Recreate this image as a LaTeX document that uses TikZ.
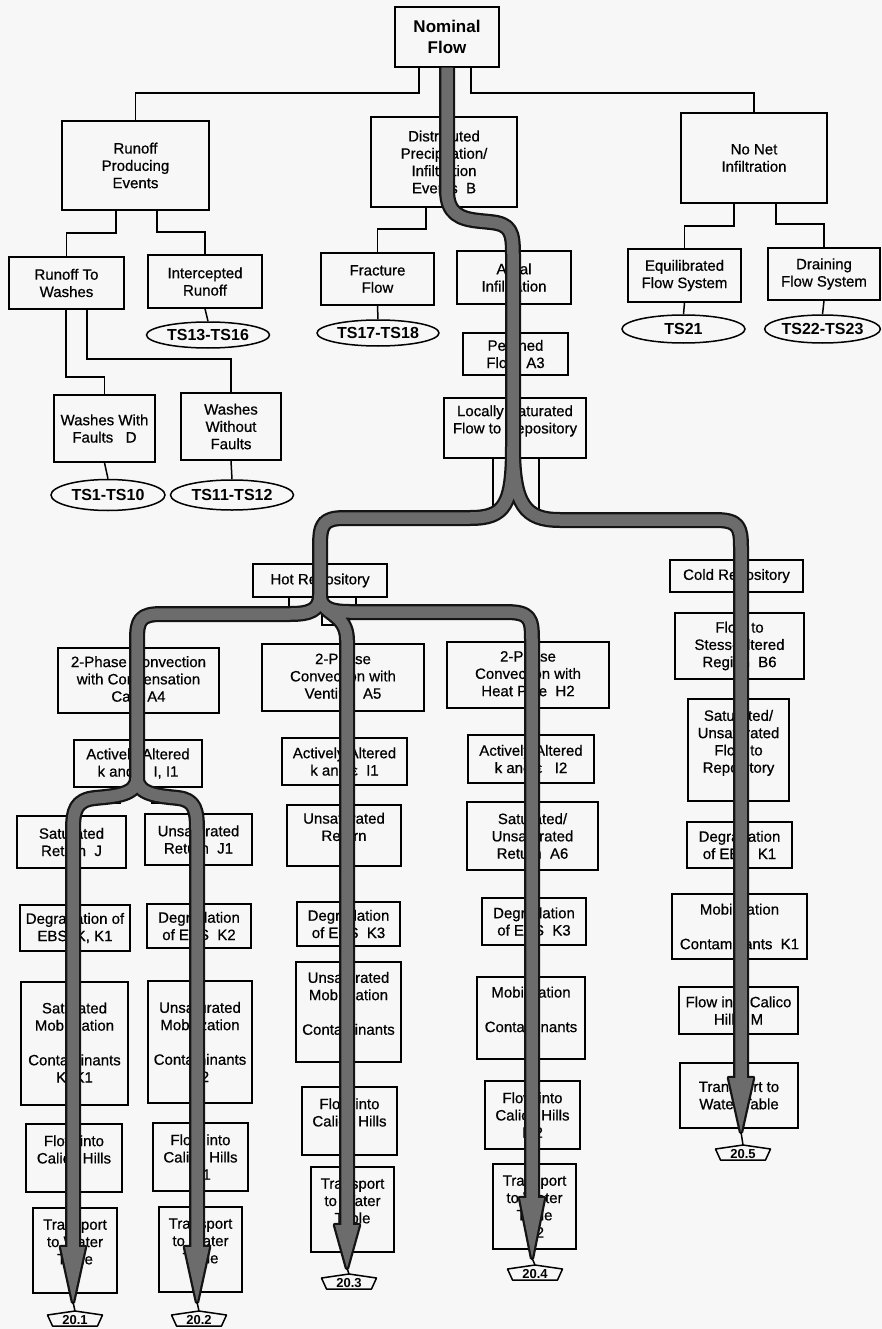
\documentclass[tikz,border=0pt]{standalone}
\usepackage{fontspec}
\setmainfont{Liberation Sans}
\newfontfamily\heavyfont{Liberation Sans}[FakeBold=0.6]
\usetikzlibrary{shapes.geometric,calc}
\definecolor{bg}{RGB}{247,247,247}
\definecolor{bandgray}{RGB}{108,108,108}
\newcommand\boxfont{\heavyfont\fontsize{15}{17.3}\selectfont}
\newcommand\topfont{\fontsize{17}{21}\selectfont\bfseries}
\newcommand\tsfont{\fontsize{16}{18}\selectfont\bfseries}
\newcommand\pentfont{\fontsize{13}{15}\selectfont\bfseries}
\newcommand\pentnode[4]{%
  \node[pentlabel] (#1) at (#2,#3) {#4};
  \draw[pentline] (#1.center) ++(-27.5,-5) -- ++(27.5,-4) -- ++(27.5,4) -- ++(-5,11) -- ++(-45,0) -- cycle;
  \coordinate (#1peak) at ($(#1.center)+(0,-9)$);}
\newcommand\flowroutes{%
  (nom.south) -- (447,190) .. controls (447,214) and (460,219) .. (480,221) -- (490,222) .. controls (511,224) and (513,232) .. (513,255) -- (513,445)
  (513,445) .. controls (513,505) and (505,518) .. (470,518) -- (345,518) .. controls (322,518) and (320,525) .. (320,548) -- (320,595)
  (513,445) .. controls (513,505) and (525,520) .. (560,520) -- (715,520) .. controls (739,520) and (741,527) .. (741,548) -- (741,1078)
  (320,595) .. controls (320,610) and (310,614) .. (290,614) -- (162,614) .. controls (140,614) and (137,620) .. (137,640) -- (137,778)
  (320,595) .. controls (320,608) and (330,612) .. (350,612) -- (505,612) .. controls (530,612) and (532,618) .. (532,640) -- (532,1198)
  (320,595) .. controls (320,615) and (347,612) .. (347,640) -- (347,1225)
  (137,778) .. controls (137,795) and (115,796) .. (95,798) .. controls (76,800) and (73,810) .. (73,830) -- (73,1247)
  (137,778) .. controls (137,795) and (160,796) .. (178,798) .. controls (195,800) and (197,810) .. (197,830) -- (197,1247)}
\newcommand\heads{%
  (61,1247) -- (85,1247) -- (73,1302) -- cycle
  (185,1247) -- (209,1247) -- (197,1302) -- cycle
  (335,1225) -- (359,1225) -- (347,1268) -- cycle
  (520,1198) -- (544,1198) -- (532,1258) -- cycle
  (729,1078) -- (753,1078) -- (741,1132) -- cycle}
\begin{document}
\begin{tikzpicture}[x=1pt,y=-1pt,
  box/.style={draw,line width=1.5pt,inner sep=1pt,align=center,font=\boxfont},
  tsell/.style={draw,ellipse,line width=1.5pt,inner sep=0pt,font=\tsfont},
  pentlabel/.style={inner sep=0pt,font=\pentfont},
  pentline/.style={line width=1.5pt,line join=round},
  conn/.style={line width=1.5pt},
  flowout/.style={line width=16pt,draw=black!92,line cap=butt,line join=round},
  flowin/.style={line width=11.5pt,draw=bandgray,line cap=butt,line join=round}]
\fill[bg] (0,0) rectangle (882,1329);
\useasboundingbox (0,0) rectangle (882,1329);

% --- boxes ---
\node[box,minimum width=104pt,minimum height=60pt,font=\topfont] (nom) at (447,37) {Nominal\\Flow};
\node[box,minimum width=147pt,minimum height=89pt] (rpe) at (135.5,165.5) {Runoff\\Producing\\Events};
\node[box,minimum width=146pt,minimum height=90pt] (dpe) at (444,162) {Distributed\\Precipitation/\\Infiltration\\Events~~B};
\node[box,minimum width=146pt,minimum height=90pt] (nni) at (754,158) {No Net\\Infiltration};
\node[box,minimum width=115pt,minimum height=52pt] (rtw) at (66.5,283) {Runoff To\\Washes};
\node[box,minimum width=114pt,minimum height=53pt] (icr) at (205,281.5) {Intercepted\\Runoff};
\node[box,minimum width=113pt,minimum height=52pt] (ffl) at (377.5,279) {Fracture\\Flow};
\node[box,minimum width=114pt,minimum height=53pt] (ari) at (514,277.5) {Areal\\Infiltration};
\node[box,minimum width=113pt,minimum height=53pt] (efs) at (684.5,275.5) {Equilibrated\\Flow System};
\node[box,minimum width=112pt,minimum height=52pt] (dfs) at (824,274) {Draining\\Flow System};
\node[box,minimum width=105pt,minimum height=42pt] (per) at (515.5,354) {Perched\\Flow~~A3};
\node[box,minimum width=142pt,minimum height=60pt] (lsf) at (515,428) {Locally Saturated\\Flow to Repository\\ \mbox{}};
\node[box,minimum width=101pt,minimum height=67pt] (wwf) at (104.5,428.5) {Washes With\\Faults~~~D};
\node[box,minimum width=100pt,minimum height=67pt] (wwo) at (231,426.5) {Washes\\Without\\Faults};
\node[box,minimum width=134pt,minimum height=33pt] (hot) at (320,580.5) {Hot Repository};
\node[box,minimum width=133pt,minimum height=32pt] (cold) at (736.5,576) {Cold Repository};
\node[box,minimum width=161pt,minimum height=65pt] (a4) at (138.5,680.5) {2-Phase Convection\\with Condensation\\Cap~~A4};
\node[box,minimum width=162pt,minimum height=67pt] (a5) at (343,677.5) {2-Phase\\Convection with\\Venting~~A5};
\node[box,minimum width=162pt,minimum height=66pt] (h2) at (528,675) {2-Phase\\Convection with\\Heat Pipe~~H2};
\node[box,minimum width=129pt,minimum height=66pt] (fsa) at (739.5,646) {Flow to\\Stess-Altered\\Region~~B6};
\node[box,minimum width=128pt,minimum height=47pt] (aa1) at (138,763.5) {Actively Altered\\k and ε~~I, I1};
\node[box,minimum width=125pt,minimum height=47pt] (aa2) at (344.5,761.5) {Actively Altered\\k and ε~~I1};
\node[box,minimum width=126pt,minimum height=48pt] (aa3) at (531,759) {Actively Altered\\k and ε~~~I2};
\node[box,minimum width=101pt,minimum height=102pt] (suf) at (738.5,750) {Saturated/\\Unsaturated\\Flow to\\Repository\\ \mbox{}};
\node[box,minimum width=109pt,minimum height=52pt] (srj) at (71.5,842) {Saturated\\Return~~J};
\node[box,minimum width=107pt,minimum height=51pt] (urj) at (198.5,839.5) {Unsaturated\\Return~~J1};
\node[box,minimum width=114pt,minimum height=61pt] (urt) at (344,835.5) {Unsaturated\\Return\\ \mbox{}};
\node[box,minimum width=131pt,minimum height=68pt] (sur) at (532.5,836) {Saturated/\\Unsaturated\\Return~~A6};
\node[box,minimum width=110pt,minimum height=46pt] (dk1) at (75,928) {Degradation of\\EBS~~K, K1};
\node[box,minimum width=104pt,minimum height=44pt] (dk2) at (199,926) {Degradation\\of EBS~~K2};
\node[box,minimum width=103pt,minimum height=44pt] (dk3a) at (348.5,924) {Degradation\\of EBS~~K3};
\node[box,minimum width=104pt,minimum height=47pt] (dk3b) at (534,921.5) {Degradation\\of EBS~~K3};
\node[box,minimum width=105pt,minimum height=46pt] (dkc) at (739.5,845) {Degradation\\of EBS~~K1};
\node[box,minimum width=107pt,minimum height=123pt] (smc) at (74.5,1043.5) {Saturated\\Mobilization\\[17.3pt]Contaminants\\K, K1};
\node[box,minimum width=104pt,minimum height=122pt] (umc) at (200,1042) {Unsaturated\\Mobilization\\[17.3pt]Contaminants\\K2};
\node[box,minimum width=105pt,minimum height=100pt] (umc3) at (348.5,1012) {Unsaturated\\Mobilization\\[17.3pt]Contaminants\\ \mbox{}};
\node[box,minimum width=108pt,minimum height=82pt] (mc4) at (531,1018) {Mobilization\\[17.3pt]Contaminants\\ \mbox{}};
\node[box,minimum width=135pt,minimum height=65pt] (mck1) at (739.5,926.5) {Mobilization\\[17.3pt]Contaminants~~K1};
\node[box,minimum width=96pt,minimum height=68pt] (fch1) at (74,1158) {Flow into\\Calico Hills\\M};
\node[box,minimum width=95pt,minimum height=68pt] (fch2) at (200.5,1157) {Flow into\\Calico Hills\\M1};
\node[box,minimum width=95pt,minimum height=68pt] (fch3) at (349.5,1121) {Flow into\\Calico Hills\\ \mbox{}};
\node[box,minimum width=95pt,minimum height=68pt] (fch4) at (532.5,1115) {Flow into\\Calico Hills\\M2};
\node[box,minimum width=119pt,minimum height=47pt] (fcm) at (738.5,1010.5) {Flow into Calico\\Hills~~M};
\node[box,minimum width=84pt,minimum height=85pt] (tw1) at (75,1250.5) {Transport\\to Water\\Table\\ \mbox{}};
\node[box,minimum width=83pt,minimum height=85pt] (tw2) at (200.5,1249.5) {Transport\\to Water\\Table\\ \mbox{}};
\node[box,minimum width=83pt,minimum height=85pt] (tw3) at (352.5,1209.5) {Transport\\to Water\\Table\\ \mbox{}};
\node[box,minimum width=83pt,minimum height=85pt] (tw4) at (534.5,1206.5) {Transport\\to Water\\Table\\N2};
\node[box,minimum width=118pt,minimum height=65pt] (twc) at (739,1095.5) {Transport to\\Water Table};

% --- ellipses ---
\node[tsell,minimum width=123pt,minimum height=26pt] (ts1316) at (208,335) {TS13-TS16};
\node[tsell,minimum width=122pt,minimum height=26pt] (ts1718) at (378,333) {TS17-TS18};
\node[tsell,minimum width=114pt,minimum height=31pt] (ts110) at (108,495) {TS1-TS10};
\node[tsell,minimum width=123pt,minimum height=30pt] (ts1112) at (232,495) {TS11-TS12};
\node[tsell,minimum width=123pt,minimum height=28pt] (ts21) at (683.5,329) {TS21};
\node[tsell,minimum width=115pt,minimum height=28pt] (ts2223) at (822.5,329) {TS22-TS23};

% --- off-page connectors ---
\pentnode{p1}{75}{1320}{20.1}
\pentnode{p2}{199}{1320}{20.2}
\pentnode{p3}{349}{1283}{20.3}
\pentnode{p4}{535}{1274}{20.4}
\pentnode{p5}{743}{1154}{20.5}

% --- thin connectors ---
\draw[conn] (nom.south -| 419,0) -- (419,93) -| (rpe.north);
\draw[conn] (nom.south -| 471,0) -- (471,93) -| (nni.north);
\draw[conn] (nom.south) -- (dpe.north);
\draw[conn] (rpe.south -| 116,0) -- (116,233) -| (rtw.north);
\draw[conn] (rpe.south -| 157,0) -- (157,232) -| (icr.north);
\draw[conn] (icr.south) -- (ts1316.north);
\draw[conn] (rtw.south -| 66,0) -- (66,377) -| (wwf.north);
\draw[conn] (rtw.south -| 87,0) -- (87,359) -| (wwo.north);
\draw[conn] (wwf.south) -- (ts110.north);
\draw[conn] (wwo.south) -- (ts1112.north);
\draw[conn] (dpe.south -| 426,0) -- (426,229) -| (ffl.north);
\draw[conn] (ffl.south) -- (ts1718.north);
\draw[conn] (nni.south -| 734,0) -- (734,226) -| (efs.north);
\draw[conn] (nni.south -| 776,0) -- (776,224) -| (dfs.north);
\draw[conn] (efs.south) -- (ts21.north);
\draw[conn] (dfs.south) -- (ts2223.north);
\draw[conn] (ari.south -| 513,0) -- (per.north -| 513,0);
\draw[conn] (per.south -| 513,0) -- (lsf.north -| 513,0);
\draw[conn] (lsf.south -| 493,0) -- (493,518) -| (hot.north);
\draw[conn] (lsf.south -| 539,0) -- (539,523) -| (cold.north);
\draw[conn] (hot.south -| 289,0) -- (289,616) -| (a4.north);
\draw[conn] (hot.south -| 356,0) -- (356,616) -| (h2.north);
\draw[conn] (hot.south -| 322,0) -- (322,625) -| (a5.north);
\draw[conn] (a4.south -| 137,0) -- (aa1.north -| 137,0);
\draw[conn] (aa1.south -| 120,0) -- (120,803) -| (srj.north);
\draw[conn] (aa1.south -| 152,0) -- (152,803) -| (urj.north);
\foreach \a/\b/\x in {srj/dk1/73, dk1/smc/73, smc/fch1/73, fch1/tw1/73,
    urj/dk2/197, dk2/umc/197, umc/fch2/197, fch2/tw2/197,
    a5/aa2/347, aa2/urt/347, urt/dk3a/347, dk3a/umc3/347, umc3/fch3/347, fch3/tw3/347,
    h2/aa3/532, aa3/sur/532, sur/dk3b/532, dk3b/mc4/532, mc4/fch4/532, fch4/tw4/532,
    cold/fsa/741, fsa/suf/741, suf/dkc/741, dkc/mck1/741, mck1/fcm/741, fcm/twc/741}
  \draw[conn] (\a.south -| \x,0) -- (\b.north -| \x,0);

% --- nominal flow pathway ---
\draw[flowout] \flowroutes;
\filldraw[black!92,line width=4.5pt,line join=round] \heads;
\draw[flowin] \flowroutes;
\fill[bandgray] \heads;
\draw[conn] (73,1302) -- (p1peak);
\draw[conn] (197,1302) -- (p2peak);
\draw[conn] (347,1268) -- (p3peak);
\draw[conn] (532,1258) -- (p4peak);
\draw[conn] (741,1132) -- (p5peak);
\end{tikzpicture}
\end{document}
